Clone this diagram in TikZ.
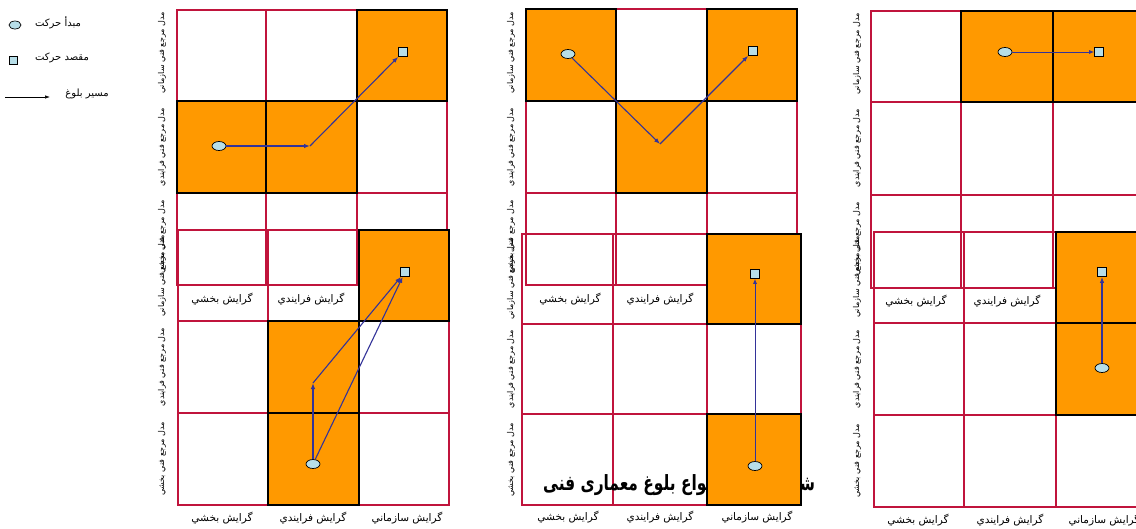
\documentclass[tikz,border=0pt]{standalone}
\usepackage{fontspec}
\usetikzlibrary{shapes.geometric,arrows.meta}
\TeXXeTstate=1
\newfontfamily\arabicfont[Script=Arabic]{DejaVu Sans}
\newcommand{\rtltext}[1]{\beginR #1\endR}
\definecolor{gridred}{RGB}{192,20,60}
\definecolor{hotorange}{RGB}{255,153,0}
\definecolor{pathblue}{RGB}{51,51,153}
\definecolor{markfill}{RGB}{183,222,232}
\tikzset{
  cellline/.style={draw=gridred, line width=1.1pt},
  hotcell/.style={fill=hotorange, draw=black, line width=1.1pt},
  arr/.style={draw=pathblue, line width=1.1pt, -{Latex[length=6pt,width=4.5pt]}},
  thinarr/.style={draw=pathblue, line width=0.8pt, -{Latex[length=5pt,width=4pt]}},
  startmark/.style={ellipse, draw=black, fill=markfill, minimum width=14pt, minimum height=9pt, inner sep=0pt, line width=0.7pt},
  goalmark/.style={rectangle, draw=black, fill=markfill, minimum size=9pt, inner sep=0pt, line width=0.7pt},
  collab/.style={font=\arabicfont\fontsize{10.5}{12}\selectfont, inner sep=0pt},
  rowlab/.style={rotate=90, font=\arabicfont\fontsize{8}{9}\selectfont, inner sep=0pt},
  leglab/.style={font=\arabicfont\fontsize{10}{12}\selectfont, inner sep=0pt}
}
\begin{document}
\begin{tikzpicture}[x=1pt,y=-1pt]
\useasboundingbox[fill=white] (0,0) rectangle (1136,528);

% ---------------- legend ----------------
\node[startmark, minimum width=12pt, minimum height=8pt] (e0) at (15,25) {};
\node[leglab] (l0) at (58,23) {\rtltext{مبدأ حرکت}};
\node[goalmark, minimum size=8pt] (s0) at (13,60) {};
\node[leglab] (l1) at (62,58) {\rtltext{مقصد حرکت}};
\coordinate (a0) at (5,97);
\coordinate (b0) at (50,97);
\draw[line width=0.7pt, -{Latex[length=5pt,width=3.5pt]}] (a0) -- (b0);
\node[leglab] (l2) at (87,94) {\rtltext{مسير بلوغ}};

% ---------------- panel 1 ----------------
\foreach \xa/\xb in {177/266,266/357,357/447}
  \foreach \ya/\yb in {10/101,101/193,193/285}
    \draw[cellline] (\xa,\ya) rectangle (\xb,\yb);
\foreach \xa/\xb in {178/268,268/359,359/449}
  \foreach \ya/\yb in {230/321,321/413,413/505}
    \draw[cellline] (\xa,\ya) rectangle (\xb,\yb);
\node[rowlab] (r11) at (162,53) {\rtltext{مدل مرجع فني سازماني}};
\node[rowlab] (r12) at (162,147) {\rtltext{مدل مرجع فني فرايندي}};
\node[rowlab] (r13) at (162,237) {\rtltext{مدل مرجع فني بخشي}};
\node[rowlab] (r14) at (162,276) {\rtltext{مدل مرجع فني سازماني}};
\node[rowlab] (r15) at (162,367) {\rtltext{مدل مرجع فني فرايندي}};
\node[rowlab] (r16) at (162,459) {\rtltext{مدل مرجع فني بخشي}};
\node[collab] (c11) at (222,299) {\rtltext{گرايش بخشي}};
\node[collab] (c12) at (311,299) {\rtltext{گرايش فرايندي}};
\node[collab] (c13) at (222,518) {\rtltext{گرايش بخشي}};
\node[collab] (c14) at (313,518) {\rtltext{گرايش فرايندي}};
\node[collab] (c15) at (407,518) {\rtltext{گرايش سازماني}};
\draw[hotcell] (357,10) rectangle (447,101);
\draw[hotcell] (177,101) rectangle (266,193);
\draw[hotcell] (266,101) rectangle (357,193);
\draw[hotcell] (359,230) rectangle (449,321);
\draw[hotcell] (268,321) rectangle (359,413);
\draw[hotcell] (268,413) rectangle (359,505);
\node[startmark] (e1) at (219,146) {};
\node[goalmark] (s1) at (403,52) {};
\coordinate (k1) at (310,146);
\draw[arr] (e1) -- (k1);
\draw[arr] (k1) -- (s1);
\node[startmark] (e2) at (313,464) {};
\node[goalmark] (s2) at (405,272) {};
\coordinate (k2) at (313,383);
\draw[arr] (e2) -- (k2);
\draw[arr] (k2) -- (s2);
\draw[arr] (e2) -- (s2);

% ---------------- panel 2 ----------------
\foreach \xa/\xb in {526/616,616/707,707/797}
  \foreach \ya/\yb in {9/101,101/193,193/285}
    \draw[cellline] (\xa,\ya) rectangle (\xb,\yb);
\foreach \xa/\xb in {522/613,613/707,707/801}
  \foreach \ya/\yb in {234/324,324/414,414/505}
    \draw[cellline] (\xa,\ya) rectangle (\xb,\yb);
\node[rowlab] (r21) at (511,53) {\rtltext{مدل مرجع فني سازماني}};
\node[rowlab] (r22) at (511,147) {\rtltext{مدل مرجع فني فرايندي}};
\node[rowlab] (r23) at (511,237) {\rtltext{مدل مرجع فني بخشي}};
\node[rowlab] (r24) at (511,279) {\rtltext{مدل مرجع فني سازماني}};
\node[rowlab] (r25) at (511,369) {\rtltext{مدل مرجع فني فرايندي}};
\node[rowlab] (r26) at (511,460) {\rtltext{مدل مرجع فني بخشي}};
\node[collab] (c21) at (570,299) {\rtltext{گرايش بخشي}};
\node[collab] (c22) at (660,299) {\rtltext{گرايش فرايندي}};
\node[collab] (c23) at (568,517) {\rtltext{گرايش بخشي}};
\node[collab] (c24) at (660,517) {\rtltext{گرايش فرايندي}};
\node[collab] (c25) at (757,517) {\rtltext{گرايش سازماني}};
\node[font=\arabicfont\bfseries\fontsize{21}{24}\selectfont, anchor=west, inner sep=0pt] (title) at (543,485) {\scalebox{0.735}[1]{\hbox to 370pt{\beginR شکل ۲-\hfill انواع بلوغ معماری فنی\endR}}};
\draw[hotcell] (526,9) rectangle (616,101);
\draw[hotcell] (707,9) rectangle (797,101);
\draw[hotcell] (616,101) rectangle (707,193);
\draw[hotcell] (707,234) rectangle (801,324);
\draw[hotcell] (707,414) rectangle (801,505);
\node[startmark] (e3) at (568,54) {};
\node[goalmark] (s3) at (753,51) {};
\coordinate (k3) at (660,144);
\draw[arr] (e3) -- (k3);
\draw[arr] (k3) -- (s3);
\node[startmark] (e4) at (755,466) {};
\node[goalmark] (s4) at (755,274) {};
\draw[thinarr] (e4) -- (s4);

% ---------------- panel 3 ----------------
\foreach \xa/\xb in {871/961,961/1053,1053/1144}
  \foreach \ya/\yb in {11/102,102/195,195/288}
    \draw[cellline] (\xa,\ya) rectangle (\xb,\yb);
\foreach \xa/\xb in {874/964,964/1056,1056/1147}
  \foreach \ya/\yb in {232/323,323/415,415/507}
    \draw[cellline] (\xa,\ya) rectangle (\xb,\yb);
\node[rowlab] (r31) at (857,54) {\rtltext{مدل مرجع فني سازماني}};
\node[rowlab] (r32) at (857,148) {\rtltext{مدل مرجع فني فرايندي}};
\node[rowlab] (r33) at (857,239) {\rtltext{مدل مرجع فني بخشي}};
\node[rowlab] (r34) at (857,277) {\rtltext{مدل مرجع فني سازماني}};
\node[rowlab] (r35) at (857,369) {\rtltext{مدل مرجع فني فرايندي}};
\node[rowlab] (r36) at (857,461) {\rtltext{مدل مرجع فني بخشي}};
\node[collab] (c31) at (916,301) {\rtltext{گرايش بخشي}};
\node[collab] (c32) at (1007,301) {\rtltext{گرايش فرايندي}};
\node[collab] (c33) at (918,520) {\rtltext{گرايش بخشي}};
\node[collab] (c34) at (1010,520) {\rtltext{گرايش فرايندي}};
\node[collab] (c35) at (1104,520) {\rtltext{گرايش سازماني}};
\draw[hotcell] (961,11) rectangle (1053,102);
\draw[hotcell] (1053,11) rectangle (1144,102);
\draw[hotcell] (1056,232) rectangle (1147,323);
\draw[hotcell] (1056,323) rectangle (1147,415);
\node[startmark] (e5) at (1005,52) {};
\node[goalmark] (s5) at (1099,52) {};
\draw[thinarr] (e5) -- (s5);
\node[startmark] (e6) at (1102,368) {};
\node[goalmark] (s6) at (1102,272) {};
\draw[arr] (e6) -- (s6);
\end{tikzpicture}
\end{document}
